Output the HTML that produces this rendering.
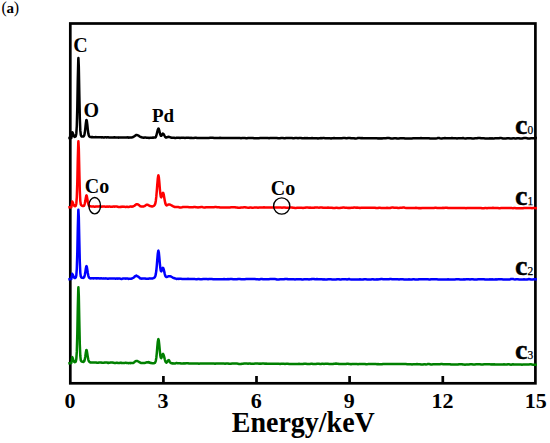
<!DOCTYPE html>
<html><head><meta charset="utf-8"><style>
html,body{margin:0;padding:0;background:#fff;width:550px;height:443px;overflow:hidden}
svg{display:block}
text{font-family:"Liberation Serif",serif;font-weight:bold;fill:#000}
</style></head><body>
<svg width="550" height="443" viewBox="0 0 550 443">
<rect width="550" height="443" fill="#fff"/>
<text x="1.6" y="13.2" style="font-weight:normal;font-size:16px;letter-spacing:-0.4px">(<tspan style="font-weight:bold;font-size:15px">a</tspan>)</text>
<rect x="70.3" y="23.5" width="465.1" height="359.8" fill="none" stroke="#000" stroke-width="2.7"/>
<line x1="163.4" y1="376" x2="163.4" y2="383" stroke="#000" stroke-width="2.7"/><line x1="256.5" y1="376" x2="256.5" y2="383" stroke="#000" stroke-width="2.7"/><line x1="349.6" y1="376" x2="349.6" y2="383" stroke="#000" stroke-width="2.7"/><line x1="442.8" y1="376" x2="442.8" y2="383" stroke="#000" stroke-width="2.7"/>
<path d="M68.3 138.1 L68.8 138.1 L69.3 138.0 L69.8 138.0 L70.3 138.0 L70.8 138.0 L71.3 137.9 L71.8 135.5 L72.2 132.2 L72.3 132.2 L72.8 133.1 L73.3 134.5 L73.8 135.9 L74.3 136.6 L74.8 136.9 L75.3 136.7 L75.8 136.1 L76.3 133.7 L76.8 126.0 L77.3 107.6 L77.8 79.6 L78.3 59.2 L78.4 58.0 L78.8 66.5 L79.3 93.5 L79.8 117.7 L80.3 130.4 L80.8 134.9 L81.3 136.0 L81.8 136.5 L82.3 136.6 L82.8 136.6 L83.3 136.5 L83.8 136.3 L84.3 135.3 L84.8 132.8 L85.3 128.7 L85.8 123.7 L86.3 120.3 L86.5 120.0 L86.8 120.7 L87.3 124.7 L87.8 129.6 L88.3 133.4 L88.8 135.5 L89.3 136.5 L89.8 136.8 L90.3 137.0 L90.8 137.1 L91.3 137.2 L91.8 137.1 L92.3 137.2 L92.8 137.1 L93.3 137.3 L93.8 137.2 L94.3 137.3 L94.8 137.2 L95.3 137.2 L95.8 137.1 L96.3 137.2 L96.8 137.3 L97.3 137.2 L97.8 137.2 L98.3 137.2 L98.8 137.2 L99.3 137.3 L99.8 137.3 L100.3 137.3 L100.8 137.3 L101.3 137.3 L101.8 137.4 L102.3 137.3 L102.8 137.3 L103.3 137.4 L103.8 137.5 L104.3 137.4 L104.8 137.3 L105.3 137.2 L105.8 137.2 L106.3 137.4 L106.8 137.4 L107.3 137.3 L107.8 137.2 L108.3 137.3 L108.8 137.4 L109.3 137.5 L109.8 137.4 L110.3 137.4 L110.8 137.5 L111.3 137.6 L111.8 137.5 L112.3 137.5 L112.8 137.4 L113.3 137.5 L113.8 137.3 L114.3 137.4 L114.8 137.3 L115.3 137.4 L115.8 137.4 L116.3 137.4 L116.8 137.5 L117.3 137.5 L117.8 137.6 L118.3 137.6 L118.8 137.7 L119.3 137.5 L119.8 137.4 L120.3 137.5 L120.8 137.5 L121.3 137.6 L121.8 137.5 L122.3 137.5 L122.8 137.6 L123.3 137.6 L123.8 137.6 L124.3 137.5 L124.8 137.5 L125.3 137.5 L125.8 137.6 L126.3 137.6 L126.8 137.6 L127.3 137.4 L127.8 137.3 L128.3 137.6 L128.8 137.7 L129.3 137.6 L129.8 137.5 L130.3 137.5 L130.8 137.5 L131.3 137.4 L131.8 137.4 L132.3 137.3 L132.8 137.2 L133.3 136.9 L133.8 136.6 L134.3 136.3 L134.8 135.9 L135.3 135.6 L135.8 135.2 L136.3 135.0 L136.8 135.0 L137.0 135.0 L137.3 135.2 L137.8 135.2 L138.3 135.5 L138.8 135.8 L139.3 136.2 L139.8 136.6 L140.3 136.8 L140.8 137.1 L141.3 137.2 L141.8 137.4 L142.3 137.4 L142.8 137.4 L143.3 137.7 L143.8 137.7 L144.3 137.7 L144.8 137.5 L145.3 137.5 L145.8 137.6 L146.3 137.7 L146.8 137.7 L147.3 137.7 L147.8 137.7 L148.3 137.8 L148.8 137.9 L149.3 137.9 L149.8 137.8 L150.3 137.7 L150.8 137.7 L151.3 137.7 L151.8 137.7 L152.3 137.7 L152.8 137.6 L153.3 137.7 L153.8 137.6 L154.3 137.6 L154.8 137.6 L155.3 137.5 L155.8 137.0 L156.3 135.8 L156.8 133.8 L157.3 131.7 L157.8 129.7 L158.3 128.7 L158.4 128.5 L158.8 128.9 L159.3 130.6 L159.8 132.9 L160.3 134.6 L160.8 135.7 L161.3 135.8 L161.8 135.0 L162.3 134.2 L162.8 133.5 L163.0 133.8 L163.3 133.8 L163.8 134.5 L164.3 135.3 L164.8 136.3 L165.3 137.1 L165.8 137.5 L166.3 137.6 L166.8 137.3 L167.3 137.2 L167.8 136.9 L168.3 136.9 L168.6 136.8 L168.8 136.9 L169.3 136.9 L169.8 137.2 L170.3 137.4 L170.8 137.5 L171.3 137.7 L171.8 137.7 L172.3 137.7 L172.8 137.7 L173.3 137.8 L173.8 137.8 L174.3 137.8 L174.8 137.9 L175.3 137.9 L175.8 137.9 L176.3 137.8 L176.8 137.8 L177.3 137.7 L177.8 137.8 L178.3 137.7 L178.8 137.8 L179.3 137.8 L179.8 137.9 L180.0 137.9 L181.0 137.7 L182.0 137.7 L183.0 137.8 L184.0 137.8 L185.0 137.9 L186.0 137.8 L187.0 137.8 L188.0 137.8 L189.0 137.8 L190.0 137.9 L191.0 137.8 L192.0 137.9 L193.0 137.9 L194.0 137.9 L195.0 137.8 L196.0 137.8 L197.0 138.0 L198.0 137.9 L199.0 137.9 L200.0 137.9 L201.0 137.9 L202.0 138.0 L203.0 137.9 L204.0 137.9 L205.0 137.9 L206.0 137.9 L207.0 138.0 L208.0 137.9 L209.0 137.9 L210.0 137.8 L211.0 137.8 L212.0 137.8 L213.0 137.8 L214.0 137.9 L215.0 137.9 L216.0 138.1 L217.0 138.0 L218.0 138.0 L219.0 137.9 L220.0 137.8 L221.0 138.1 L222.0 138.0 L223.0 138.1 L224.0 138.0 L225.0 138.0 L226.0 138.0 L227.0 137.9 L228.0 138.0 L229.0 138.1 L230.0 138.0 L231.0 138.0 L232.0 138.0 L233.0 138.0 L234.0 138.0 L235.0 138.0 L236.0 137.9 L237.0 137.9 L238.0 137.9 L239.0 138.0 L240.0 138.1 L241.0 138.2 L242.0 138.1 L243.0 138.1 L244.0 138.0 L245.0 138.1 L246.0 138.2 L247.0 138.2 L248.0 138.1 L249.0 138.0 L250.0 138.0 L251.0 138.0 L252.0 138.0 L253.0 138.0 L254.0 138.2 L255.0 138.2 L256.0 138.2 L257.0 138.2 L258.0 138.2 L259.0 138.2 L260.0 138.1 L261.0 138.1 L262.0 138.0 L263.0 138.0 L264.0 138.0 L265.0 138.0 L266.0 137.9 L267.0 138.1 L268.0 138.1 L269.0 138.2 L270.0 138.0 L271.0 138.0 L272.0 138.0 L273.0 138.0 L274.0 138.0 L275.0 138.0 L276.0 138.0 L277.0 138.1 L278.0 138.2 L279.0 138.3 L280.0 138.2 L281.0 138.1 L282.0 138.1 L283.0 138.1 L284.0 138.2 L285.0 138.3 L286.0 138.1 L287.0 138.1 L288.0 137.9 L289.0 138.1 L290.0 138.0 L291.0 138.1 L292.0 138.0 L293.0 138.2 L294.0 138.2 L295.0 138.1 L296.0 138.1 L297.0 138.1 L298.0 138.2 L299.0 138.1 L300.0 138.1 L301.0 138.1 L302.0 138.3 L303.0 138.2 L304.0 138.3 L305.0 138.1 L306.0 138.2 L307.0 138.1 L308.0 138.2 L309.0 138.3 L310.0 138.2 L311.0 138.2 L312.0 138.1 L313.0 138.3 L314.0 138.3 L315.0 138.2 L316.0 138.2 L317.0 138.2 L318.0 138.4 L319.0 138.3 L320.0 138.2 L321.0 138.1 L322.0 138.2 L323.0 138.1 L324.0 138.1 L325.0 138.2 L326.0 138.3 L327.0 138.3 L328.0 138.2 L329.0 138.3 L330.0 138.3 L331.0 138.4 L332.0 138.2 L333.0 138.2 L334.0 138.1 L335.0 138.3 L336.0 138.3 L337.0 138.3 L338.0 138.2 L339.0 138.3 L340.0 138.3 L341.0 138.2 L342.0 138.2 L343.0 138.1 L344.0 138.1 L345.0 138.1 L346.0 138.2 L347.0 138.2 L348.0 138.1 L349.0 138.1 L350.0 138.1 L351.0 138.3 L352.0 138.2 L353.0 138.3 L354.0 138.2 L355.0 138.4 L356.0 138.4 L357.0 138.3 L358.0 138.1 L359.0 138.1 L360.0 138.0 L361.0 138.2 L362.0 138.0 L363.0 138.2 L364.0 138.3 L365.0 138.3 L366.0 138.3 L367.0 138.3 L368.0 138.3 L369.0 138.2 L370.0 138.2 L371.0 138.3 L372.0 138.3 L373.0 138.3 L374.0 138.3 L375.0 138.2 L376.0 138.3 L377.0 138.2 L378.0 138.4 L379.0 138.3 L380.0 138.4 L381.0 138.3 L382.0 138.4 L383.0 138.2 L384.0 138.2 L385.0 138.2 L386.0 138.2 L387.0 138.1 L388.0 138.1 L389.0 138.1 L390.0 138.2 L391.0 138.4 L392.0 138.5 L393.0 138.4 L394.0 138.3 L395.0 138.3 L396.0 138.3 L397.0 138.5 L398.0 138.5 L399.0 138.4 L400.0 138.3 L401.0 138.2 L402.0 138.2 L403.0 138.2 L404.0 138.2 L405.0 138.4 L406.0 138.4 L407.0 138.5 L408.0 138.5 L409.0 138.5 L410.0 138.5 L411.0 138.4 L412.0 138.4 L413.0 138.3 L414.0 138.3 L415.0 138.3 L416.0 138.2 L417.0 138.2 L418.0 138.3 L419.0 138.2 L420.0 138.2 L421.0 138.1 L422.0 138.2 L423.0 138.2 L424.0 138.3 L425.0 138.3 L426.0 138.3 L427.0 138.3 L428.0 138.2 L429.0 138.2 L430.0 138.4 L431.0 138.4 L432.0 138.5 L433.0 138.5 L434.0 138.5 L435.0 138.4 L436.0 138.4 L437.0 138.3 L438.0 138.1 L439.0 138.1 L440.0 138.3 L441.0 138.4 L442.0 138.4 L443.0 138.3 L444.0 138.3 L445.0 138.1 L446.0 138.2 L447.0 138.2 L448.0 138.2 L449.0 138.3 L450.0 138.2 L451.0 138.3 L452.0 138.0 L453.0 138.2 L454.0 138.2 L455.0 138.3 L456.0 138.3 L457.0 138.4 L458.0 138.3 L459.0 138.2 L460.0 138.3 L461.0 138.3 L462.0 138.3 L463.0 138.1 L464.0 138.3 L465.0 138.4 L466.0 138.4 L467.0 138.3 L468.0 138.3 L469.0 138.3 L470.0 138.3 L471.0 138.3 L472.0 138.4 L473.0 138.5 L474.0 138.4 L475.0 138.3 L476.0 138.3 L477.0 138.2 L478.0 138.0 L479.0 138.0 L480.0 138.1 L481.0 138.3 L482.0 138.3 L483.0 138.3 L484.0 138.3 L485.0 138.4 L486.0 138.6 L487.0 138.6 L488.0 138.5 L489.0 138.4 L490.0 138.3 L491.0 138.4 L492.0 138.3 L493.0 138.4 L494.0 138.4 L495.0 138.3 L496.0 138.3 L497.0 138.3 L498.0 138.3 L499.0 138.3 L500.0 138.1 L501.0 138.1 L502.0 138.2 L503.0 138.4 L504.0 138.5 L505.0 138.5 L506.0 138.4 L507.0 138.3 L508.0 138.3 L509.0 138.3 L510.0 138.4 L511.0 138.5 L512.0 138.4 L513.0 138.3 L514.0 138.3 L515.0 138.4 L516.0 138.4 L517.0 138.3 L518.0 138.2 L519.0 138.3 L520.0 138.5 L521.0 138.6 L522.0 138.4 L523.0 138.2 L524.0 138.1 L525.0 138.0 L526.0 138.1 L527.0 138.2 L528.0 138.4 L529.0 138.4 L530.0 138.4 L531.0 138.3 L532.0 138.3 L533.0 138.3 L534.0 138.3 L535.0 138.1 L536.0 138.0 L536.9 138.1" fill="none" stroke="#000" stroke-width="2.5" stroke-linejoin="round"/><path d="M68.3 207.3 L68.8 207.3 L69.3 207.3 L69.8 207.2 L70.3 207.3 L70.8 207.4 L71.3 207.3 L71.8 204.8 L72.2 201.5 L72.3 201.6 L72.8 202.4 L73.3 203.9 L73.8 205.1 L74.3 206.0 L74.8 206.2 L75.3 206.2 L75.8 205.6 L76.3 203.7 L76.8 197.3 L77.3 182.2 L77.8 159.1 L78.3 142.2 L78.4 141.3 L78.8 148.2 L79.3 170.7 L79.8 190.8 L80.3 201.1 L80.8 204.5 L81.3 205.2 L81.8 205.7 L82.3 205.9 L82.8 206.1 L83.3 206.1 L83.8 205.9 L84.3 205.2 L84.8 203.6 L85.3 201.1 L85.8 197.9 L86.3 195.6 L86.5 195.4 L86.8 196.1 L87.3 198.7 L87.8 201.7 L88.3 203.9 L88.8 205.4 L89.3 206.0 L89.8 206.4 L90.3 206.2 L90.8 206.4 L91.3 206.4 L91.8 206.5 L92.3 206.4 L92.8 206.4 L93.3 206.6 L93.8 206.6 L94.3 206.7 L94.8 206.7 L95.3 206.7 L95.8 206.5 L96.3 206.5 L96.8 206.5 L97.3 206.6 L97.8 206.5 L98.3 206.6 L98.8 206.5 L99.3 206.4 L99.8 206.2 L100.3 206.4 L100.8 206.5 L101.3 206.8 L101.8 206.7 L102.3 206.6 L102.8 206.6 L103.3 206.6 L103.8 206.5 L104.3 206.5 L104.8 206.6 L105.3 206.7 L105.8 206.8 L106.3 206.7 L106.8 206.6 L107.3 206.6 L107.8 206.7 L108.3 206.7 L108.8 206.6 L109.3 206.5 L109.8 206.6 L110.3 206.7 L110.8 206.7 L111.3 206.8 L111.8 206.7 L112.3 206.8 L112.8 206.6 L113.3 206.6 L113.8 206.6 L114.3 206.7 L114.8 206.6 L115.3 206.6 L115.8 206.6 L116.3 206.5 L116.8 206.6 L117.3 206.6 L117.8 206.8 L118.3 206.9 L118.8 207.0 L119.3 207.0 L119.8 206.9 L120.3 206.9 L120.8 206.8 L121.3 206.9 L121.8 206.7 L122.3 206.8 L122.8 206.6 L123.3 206.7 L123.8 206.7 L124.3 206.8 L124.8 206.8 L125.3 206.9 L125.8 207.0 L126.3 206.8 L126.8 206.8 L127.3 206.8 L127.8 206.9 L128.3 206.9 L128.8 206.9 L129.3 206.8 L129.8 206.7 L130.3 206.6 L130.8 206.6 L131.3 206.6 L131.8 206.7 L132.3 206.7 L132.8 206.5 L133.3 206.3 L133.8 205.9 L134.3 205.8 L134.8 205.4 L135.3 205.1 L135.8 204.6 L136.3 204.3 L136.8 204.2 L137.0 204.3 L137.3 204.3 L137.8 204.4 L138.3 204.7 L138.8 204.9 L139.3 205.5 L139.8 205.8 L140.3 206.2 L140.8 206.3 L141.3 206.5 L141.8 206.5 L142.3 206.6 L142.8 206.5 L143.3 206.5 L143.8 206.4 L144.3 206.2 L144.8 206.0 L145.3 205.7 L145.8 205.2 L146.3 204.9 L146.8 204.7 L147.2 204.8 L147.3 204.7 L147.8 204.8 L148.3 205.1 L148.8 205.3 L149.3 205.7 L149.8 206.0 L150.3 206.1 L150.8 206.2 L151.3 206.3 L151.8 206.4 L152.3 206.4 L152.8 206.3 L153.3 206.1 L153.8 205.9 L154.3 205.4 L154.8 204.8 L155.3 203.5 L155.8 200.9 L156.3 196.7 L156.8 190.9 L157.3 184.3 L157.8 178.5 L158.3 175.5 L158.4 175.3 L158.8 177.0 L159.3 181.9 L159.8 188.3 L160.3 193.6 L160.8 196.8 L161.3 197.3 L161.8 196.0 L162.3 194.2 L162.8 193.0 L163.0 192.7 L163.3 193.1 L163.8 194.9 L164.3 198.0 L164.8 200.8 L165.3 203.3 L165.8 204.6 L166.3 205.3 L166.8 205.4 L167.3 205.2 L167.8 204.8 L168.3 204.5 L168.8 204.6 L169.3 204.6 L169.6 204.6 L169.8 204.6 L170.3 204.7 L170.8 205.0 L171.3 205.3 L171.8 205.5 L172.3 205.8 L172.8 206.2 L173.3 206.4 L173.8 206.7 L174.3 206.9 L174.8 207.1 L175.3 206.9 L175.8 206.9 L176.3 207.0 L176.8 207.1 L177.3 207.0 L177.8 207.0 L178.3 207.1 L178.8 207.2 L179.3 207.3 L179.8 207.5 L180.0 207.6 L181.0 207.4 L182.0 207.3 L183.0 207.0 L184.0 207.1 L185.0 207.0 L186.0 207.1 L187.0 207.0 L188.0 207.1 L189.0 207.2 L190.0 207.3 L191.0 207.3 L192.0 207.3 L193.0 207.2 L194.0 207.0 L195.0 207.0 L196.0 207.2 L197.0 207.3 L198.0 207.4 L199.0 207.3 L200.0 207.2 L201.0 207.1 L202.0 207.1 L203.0 207.3 L204.0 207.4 L205.0 207.5 L206.0 207.3 L207.0 207.2 L208.0 207.2 L209.0 207.3 L210.0 207.2 L211.0 207.3 L212.0 207.2 L213.0 207.2 L214.0 207.2 L215.0 207.1 L216.0 207.1 L217.0 207.2 L218.0 207.3 L219.0 207.3 L220.0 207.5 L221.0 207.6 L222.0 207.6 L223.0 207.5 L224.0 207.4 L225.0 207.5 L226.0 207.5 L227.0 207.5 L228.0 207.4 L229.0 207.5 L230.0 207.4 L231.0 207.3 L232.0 207.2 L233.0 207.2 L234.0 207.2 L235.0 207.2 L236.0 207.4 L237.0 207.5 L238.0 207.7 L239.0 207.7 L240.0 207.7 L241.0 207.5 L242.0 207.6 L243.0 207.4 L244.0 207.3 L245.0 207.2 L246.0 207.4 L247.0 207.6 L248.0 207.7 L249.0 207.7 L250.0 207.5 L251.0 207.6 L252.0 207.7 L253.0 207.7 L254.0 207.6 L255.0 207.4 L256.0 207.6 L257.0 207.6 L258.0 207.7 L259.0 207.6 L260.0 207.6 L261.0 207.6 L262.0 207.5 L263.0 207.4 L264.0 207.3 L265.0 207.4 L266.0 207.6 L267.0 207.6 L268.0 207.6 L269.0 207.5 L270.0 207.6 L271.0 207.6 L272.0 207.5 L273.0 207.6 L274.0 207.6 L275.0 207.6 L276.0 207.6 L277.0 207.6 L278.0 207.5 L279.0 207.4 L280.0 207.5 L281.0 207.6 L282.0 207.7 L283.0 207.6 L284.0 207.6 L285.0 207.6 L286.0 207.7 L287.0 207.8 L288.0 207.8 L289.0 207.7 L290.0 207.4 L291.0 207.5 L292.0 207.6 L293.0 207.8 L294.0 207.8 L295.0 207.9 L296.0 207.9 L297.0 207.8 L298.0 207.7 L299.0 207.7 L300.0 207.7 L301.0 207.8 L302.0 207.8 L303.0 207.9 L304.0 207.8 L305.0 207.8 L306.0 207.6 L307.0 207.6 L308.0 207.6 L309.0 207.7 L310.0 207.6 L311.0 207.7 L312.0 207.8 L313.0 207.7 L314.0 207.8 L315.0 207.5 L316.0 207.5 L317.0 207.4 L318.0 207.6 L319.0 207.7 L320.0 207.6 L321.0 207.6 L322.0 207.6 L323.0 207.8 L324.0 207.8 L325.0 207.8 L326.0 207.7 L327.0 207.7 L328.0 207.6 L329.0 207.7 L330.0 207.7 L331.0 207.7 L332.0 207.7 L333.0 207.9 L334.0 207.9 L335.0 207.9 L336.0 207.8 L337.0 207.8 L338.0 207.9 L339.0 208.0 L340.0 207.9 L341.0 207.8 L342.0 207.7 L343.0 207.6 L344.0 207.6 L345.0 207.7 L346.0 207.8 L347.0 207.8 L348.0 207.9 L349.0 207.8 L350.0 207.9 L351.0 207.8 L352.0 207.8 L353.0 207.8 L354.0 207.6 L355.0 207.6 L356.0 207.7 L357.0 207.6 L358.0 207.7 L359.0 207.7 L360.0 207.9 L361.0 207.8 L362.0 207.8 L363.0 207.7 L364.0 207.7 L365.0 207.8 L366.0 207.8 L367.0 207.8 L368.0 207.8 L369.0 207.8 L370.0 207.8 L371.0 207.7 L372.0 207.7 L373.0 207.7 L374.0 207.8 L375.0 207.8 L376.0 208.0 L377.0 208.0 L378.0 208.0 L379.0 207.8 L380.0 207.8 L381.0 207.9 L382.0 207.9 L383.0 208.0 L384.0 208.0 L385.0 208.0 L386.0 207.9 L387.0 207.8 L388.0 208.1 L389.0 208.0 L390.0 208.0 L391.0 207.7 L392.0 207.6 L393.0 207.6 L394.0 207.7 L395.0 207.7 L396.0 207.7 L397.0 207.7 L398.0 207.9 L399.0 207.9 L400.0 207.8 L401.0 207.7 L402.0 207.7 L403.0 207.6 L404.0 207.6 L405.0 207.8 L406.0 207.9 L407.0 207.9 L408.0 207.9 L409.0 207.9 L410.0 208.0 L411.0 207.9 L412.0 207.9 L413.0 207.9 L414.0 207.9 L415.0 208.0 L416.0 207.8 L417.0 207.9 L418.0 208.0 L419.0 208.3 L420.0 208.1 L421.0 208.2 L422.0 207.9 L423.0 208.0 L424.0 208.0 L425.0 208.0 L426.0 207.9 L427.0 207.9 L428.0 208.0 L429.0 208.0 L430.0 208.1 L431.0 208.1 L432.0 208.1 L433.0 208.0 L434.0 207.9 L435.0 207.8 L436.0 207.8 L437.0 207.9 L438.0 208.0 L439.0 207.9 L440.0 207.9 L441.0 207.9 L442.0 207.9 L443.0 207.8 L444.0 207.9 L445.0 207.8 L446.0 207.8 L447.0 207.7 L448.0 207.9 L449.0 207.9 L450.0 207.9 L451.0 208.0 L452.0 208.0 L453.0 208.1 L454.0 208.1 L455.0 208.1 L456.0 208.1 L457.0 208.0 L458.0 208.0 L459.0 207.9 L460.0 207.9 L461.0 208.0 L462.0 208.0 L463.0 207.9 L464.0 208.0 L465.0 208.1 L466.0 208.2 L467.0 208.0 L468.0 207.9 L469.0 207.9 L470.0 208.0 L471.0 208.0 L472.0 208.0 L473.0 208.1 L474.0 208.1 L475.0 208.0 L476.0 207.9 L477.0 208.0 L478.0 208.0 L479.0 207.9 L480.0 208.0 L481.0 208.1 L482.0 208.3 L483.0 208.2 L484.0 208.2 L485.0 208.1 L486.0 208.1 L487.0 208.2 L488.0 208.1 L489.0 208.1 L490.0 208.0 L491.0 208.0 L492.0 208.0 L493.0 207.8 L494.0 207.9 L495.0 207.9 L496.0 208.0 L497.0 208.0 L498.0 208.1 L499.0 208.2 L500.0 208.2 L501.0 208.1 L502.0 208.0 L503.0 207.9 L504.0 208.1 L505.0 208.0 L506.0 208.0 L507.0 208.0 L508.0 208.0 L509.0 207.9 L510.0 207.9 L511.0 207.9 L512.0 208.1 L513.0 208.2 L514.0 208.1 L515.0 208.1 L516.0 208.2 L517.0 208.3 L518.0 208.3 L519.0 208.3 L520.0 208.2 L521.0 208.3 L522.0 208.3 L523.0 208.2 L524.0 208.0 L525.0 208.0 L526.0 207.9 L527.0 208.0 L528.0 208.0 L529.0 208.1 L530.0 208.1 L531.0 208.1 L532.0 208.2 L533.0 208.1 L534.0 208.0 L535.0 208.1 L536.0 208.2 L536.9 208.3" fill="none" stroke="#f00" stroke-width="2.5" stroke-linejoin="round"/><path d="M68.3 279.2 L68.8 279.2 L69.3 279.2 L69.8 279.1 L70.3 279.1 L70.8 279.0 L71.3 278.9 L71.8 276.6 L72.2 273.7 L72.3 273.9 L72.8 274.7 L73.3 275.9 L73.8 277.1 L74.3 277.8 L74.8 278.0 L75.3 277.9 L75.8 277.4 L76.3 275.5 L76.8 268.8 L77.3 252.8 L77.8 228.5 L78.3 210.7 L78.4 209.7 L78.8 217.0 L79.3 240.6 L79.8 261.9 L80.3 272.8 L80.8 276.5 L81.3 277.4 L81.8 277.7 L82.3 277.8 L82.8 277.8 L83.3 277.9 L83.8 277.7 L84.3 276.9 L84.8 275.0 L85.3 272.3 L85.8 268.7 L86.3 266.3 L86.5 266.1 L86.8 266.7 L87.3 269.6 L87.8 273.0 L88.3 275.6 L88.8 277.1 L89.3 277.9 L89.8 278.2 L90.3 278.3 L90.8 278.4 L91.3 278.3 L91.8 278.3 L92.3 278.3 L92.8 278.3 L93.3 278.4 L93.8 278.3 L94.3 278.3 L94.8 278.2 L95.3 278.3 L95.8 278.3 L96.3 278.4 L96.8 278.3 L97.3 278.2 L97.8 278.4 L98.3 278.3 L98.8 278.3 L99.3 278.3 L99.8 278.5 L100.3 278.4 L100.8 278.3 L101.3 278.3 L101.8 278.4 L102.3 278.5 L102.8 278.4 L103.3 278.5 L103.8 278.3 L104.3 278.5 L104.8 278.5 L105.3 278.6 L105.8 278.3 L106.3 278.5 L106.8 278.5 L107.3 278.7 L107.8 278.7 L108.3 278.7 L108.8 278.6 L109.3 278.4 L109.8 278.4 L110.3 278.5 L110.8 278.5 L111.3 278.5 L111.8 278.4 L112.3 278.5 L112.8 278.6 L113.3 278.5 L113.8 278.4 L114.3 278.4 L114.8 278.5 L115.3 278.7 L115.8 278.7 L116.3 278.6 L116.8 278.6 L117.3 278.6 L117.8 278.7 L118.3 278.6 L118.8 278.6 L119.3 278.5 L119.8 278.6 L120.3 278.7 L120.8 278.8 L121.3 278.9 L121.8 279.0 L122.3 278.7 L122.8 278.6 L123.3 278.4 L123.8 278.6 L124.3 278.5 L124.8 278.6 L125.3 278.6 L125.8 278.7 L126.3 278.6 L126.8 278.4 L127.3 278.5 L127.8 278.7 L128.3 278.9 L128.8 278.8 L129.3 278.8 L129.8 278.7 L130.3 278.8 L130.8 278.8 L131.3 278.8 L131.8 278.5 L132.3 278.3 L132.8 277.9 L133.3 277.8 L133.8 277.4 L134.3 277.0 L134.8 276.5 L135.3 276.1 L135.8 275.8 L136.3 275.6 L136.3 275.7 L136.8 275.9 L137.3 276.2 L137.8 276.5 L138.3 276.7 L138.8 277.1 L139.3 277.6 L139.8 278.0 L140.3 278.4 L140.8 278.5 L141.3 278.6 L141.8 278.7 L142.3 278.6 L142.8 278.6 L143.3 278.6 L143.8 278.6 L144.3 278.6 L144.8 278.5 L145.3 278.6 L145.8 278.7 L146.3 278.7 L146.8 278.7 L147.3 278.7 L147.8 278.7 L148.3 278.8 L148.8 278.6 L149.3 278.6 L149.8 278.4 L150.3 278.6 L150.8 278.5 L151.3 278.6 L151.8 278.6 L152.3 278.5 L152.8 278.4 L153.3 278.2 L153.8 278.0 L154.3 277.7 L154.8 277.1 L155.3 276.2 L155.8 274.1 L156.3 270.8 L156.8 265.6 L157.3 259.4 L157.8 253.6 L158.3 250.8 L158.4 250.7 L158.8 252.2 L159.3 257.1 L159.8 263.1 L160.3 267.9 L160.8 270.8 L161.3 271.3 L161.8 270.4 L162.3 268.8 L162.8 267.8 L163.0 267.9 L163.3 268.2 L163.8 269.7 L164.3 271.9 L164.8 274.1 L165.3 275.8 L165.8 276.7 L166.3 277.0 L166.8 276.9 L167.3 276.8 L167.8 276.4 L168.3 276.4 L168.8 276.2 L169.3 276.3 L169.6 276.2 L169.8 276.2 L170.3 276.3 L170.8 276.4 L171.3 276.7 L171.8 277.0 L172.3 277.3 L172.8 277.6 L173.3 277.8 L173.8 278.1 L174.3 278.2 L174.8 278.4 L175.3 278.4 L175.8 278.7 L176.3 278.9 L176.8 278.9 L177.3 278.8 L177.8 278.8 L178.3 278.8 L178.8 278.9 L179.3 278.8 L179.8 278.8 L180.0 278.8 L181.0 278.8 L182.0 278.9 L183.0 278.9 L184.0 278.9 L185.0 279.0 L186.0 279.0 L187.0 278.9 L188.0 278.8 L189.0 278.9 L190.0 279.1 L191.0 279.1 L192.0 279.1 L193.0 278.9 L194.0 278.9 L195.0 279.1 L196.0 279.2 L197.0 279.2 L198.0 279.1 L199.0 279.1 L200.0 279.2 L201.0 279.2 L202.0 279.2 L203.0 279.1 L204.0 279.1 L205.0 279.0 L206.0 279.1 L207.0 279.1 L208.0 279.2 L209.0 279.0 L210.0 279.0 L211.0 279.0 L212.0 279.1 L213.0 279.2 L214.0 279.3 L215.0 279.3 L216.0 279.2 L217.0 279.2 L218.0 279.2 L219.0 279.2 L220.0 279.2 L221.0 279.2 L222.0 279.3 L223.0 279.2 L224.0 279.1 L225.0 279.3 L226.0 279.3 L227.0 279.2 L228.0 279.1 L229.0 279.2 L230.0 279.1 L231.0 279.1 L232.0 279.1 L233.0 279.2 L234.0 279.3 L235.0 279.2 L236.0 279.2 L237.0 279.2 L238.0 279.0 L239.0 279.0 L240.0 279.1 L241.0 279.2 L242.0 279.3 L243.0 279.2 L244.0 279.3 L245.0 279.2 L246.0 279.1 L247.0 279.0 L248.0 279.0 L249.0 279.1 L250.0 279.0 L251.0 279.0 L252.0 279.1 L253.0 279.0 L254.0 279.0 L255.0 279.1 L256.0 279.2 L257.0 279.3 L258.0 279.3 L259.0 279.4 L260.0 279.2 L261.0 279.0 L262.0 279.0 L263.0 279.2 L264.0 279.3 L265.0 279.3 L266.0 279.2 L267.0 279.2 L268.0 279.2 L269.0 279.2 L270.0 279.1 L271.0 279.0 L272.0 279.0 L273.0 279.0 L274.0 279.0 L275.0 279.1 L276.0 279.2 L277.0 279.5 L278.0 279.5 L279.0 279.4 L280.0 279.3 L281.0 279.3 L282.0 279.2 L283.0 279.3 L284.0 279.2 L285.0 279.0 L286.0 279.0 L287.0 279.0 L288.0 279.3 L289.0 279.2 L290.0 279.2 L291.0 279.2 L292.0 279.2 L293.0 279.3 L294.0 279.3 L295.0 279.4 L296.0 279.3 L297.0 279.2 L298.0 279.3 L299.0 279.2 L300.0 279.3 L301.0 279.3 L302.0 279.5 L303.0 279.4 L304.0 279.3 L305.0 279.2 L306.0 279.2 L307.0 279.3 L308.0 279.3 L309.0 279.4 L310.0 279.3 L311.0 279.3 L312.0 279.0 L313.0 279.0 L314.0 279.1 L315.0 279.3 L316.0 279.3 L317.0 279.1 L318.0 279.2 L319.0 279.2 L320.0 279.2 L321.0 279.2 L322.0 279.2 L323.0 279.4 L324.0 279.3 L325.0 279.4 L326.0 279.4 L327.0 279.4 L328.0 279.3 L329.0 279.2 L330.0 279.3 L331.0 279.3 L332.0 279.4 L333.0 279.4 L334.0 279.5 L335.0 279.5 L336.0 279.4 L337.0 279.2 L338.0 279.2 L339.0 279.2 L340.0 279.4 L341.0 279.4 L342.0 279.3 L343.0 279.3 L344.0 279.2 L345.0 279.3 L346.0 279.3 L347.0 279.4 L348.0 279.2 L349.0 279.1 L350.0 279.3 L351.0 279.4 L352.0 279.4 L353.0 279.4 L354.0 279.4 L355.0 279.6 L356.0 279.5 L357.0 279.5 L358.0 279.5 L359.0 279.5 L360.0 279.3 L361.0 279.4 L362.0 279.4 L363.0 279.6 L364.0 279.3 L365.0 279.3 L366.0 279.3 L367.0 279.4 L368.0 279.4 L369.0 279.4 L370.0 279.4 L371.0 279.4 L372.0 279.3 L373.0 279.3 L374.0 279.5 L375.0 279.5 L376.0 279.4 L377.0 279.3 L378.0 279.4 L379.0 279.3 L380.0 279.2 L381.0 279.1 L382.0 279.1 L383.0 279.2 L384.0 279.2 L385.0 279.3 L386.0 279.3 L387.0 279.3 L388.0 279.2 L389.0 279.3 L390.0 279.1 L391.0 279.1 L392.0 279.2 L393.0 279.2 L394.0 279.3 L395.0 279.2 L396.0 279.3 L397.0 279.3 L398.0 279.3 L399.0 279.4 L400.0 279.3 L401.0 279.3 L402.0 279.2 L403.0 279.3 L404.0 279.4 L405.0 279.6 L406.0 279.5 L407.0 279.4 L408.0 279.4 L409.0 279.3 L410.0 279.4 L411.0 279.4 L412.0 279.4 L413.0 279.3 L414.0 279.3 L415.0 279.4 L416.0 279.6 L417.0 279.6 L418.0 279.5 L419.0 279.2 L420.0 279.2 L421.0 279.2 L422.0 279.3 L423.0 279.3 L424.0 279.2 L425.0 279.3 L426.0 279.2 L427.0 279.2 L428.0 279.3 L429.0 279.4 L430.0 279.4 L431.0 279.2 L432.0 279.2 L433.0 279.3 L434.0 279.3 L435.0 279.2 L436.0 279.2 L437.0 279.3 L438.0 279.4 L439.0 279.4 L440.0 279.5 L441.0 279.6 L442.0 279.6 L443.0 279.5 L444.0 279.5 L445.0 279.5 L446.0 279.4 L447.0 279.4 L448.0 279.3 L449.0 279.5 L450.0 279.5 L451.0 279.5 L452.0 279.4 L453.0 279.5 L454.0 279.5 L455.0 279.4 L456.0 279.3 L457.0 279.3 L458.0 279.3 L459.0 279.3 L460.0 279.4 L461.0 279.5 L462.0 279.5 L463.0 279.4 L464.0 279.3 L465.0 279.4 L466.0 279.3 L467.0 279.3 L468.0 279.2 L469.0 279.3 L470.0 279.4 L471.0 279.3 L472.0 279.2 L473.0 279.3 L474.0 279.4 L475.0 279.5 L476.0 279.5 L477.0 279.4 L478.0 279.3 L479.0 279.3 L480.0 279.2 L481.0 279.3 L482.0 279.3 L483.0 279.3 L484.0 279.3 L485.0 279.5 L486.0 279.5 L487.0 279.5 L488.0 279.4 L489.0 279.4 L490.0 279.3 L491.0 279.4 L492.0 279.3 L493.0 279.5 L494.0 279.4 L495.0 279.4 L496.0 279.3 L497.0 279.4 L498.0 279.3 L499.0 279.3 L500.0 279.2 L501.0 279.2 L502.0 279.3 L503.0 279.4 L504.0 279.5 L505.0 279.5 L506.0 279.4 L507.0 279.4 L508.0 279.4 L509.0 279.5 L510.0 279.4 L511.0 279.0 L512.0 278.9 L513.0 279.1 L514.0 279.3 L515.0 279.4 L516.0 279.3 L517.0 279.3 L518.0 279.3 L519.0 279.4 L520.0 279.5 L521.0 279.5 L522.0 279.4 L523.0 279.4 L524.0 279.3 L525.0 279.4 L526.0 279.6 L527.0 279.6 L528.0 279.3 L529.0 279.1 L530.0 279.2 L531.0 279.4 L532.0 279.5 L533.0 279.4 L534.0 279.3 L535.0 279.3 L536.0 279.3 L536.9 279.4" fill="none" stroke="#00f" stroke-width="2.5" stroke-linejoin="round"/><path d="M68.3 363.3 L68.8 363.3 L69.3 363.3 L69.8 363.3 L70.3 363.2 L70.8 363.1 L71.3 363.1 L71.8 360.5 L72.2 357.3 L72.3 357.2 L72.8 358.3 L73.3 359.9 L73.8 361.3 L74.3 361.9 L74.8 362.2 L75.3 361.9 L75.8 361.5 L76.3 359.1 L76.8 351.9 L77.3 334.3 L77.8 307.7 L78.3 288.2 L78.4 287.3 L78.8 295.5 L79.3 321.1 L79.8 344.3 L80.3 356.0 L80.8 360.3 L81.3 361.2 L81.8 361.6 L82.3 361.7 L82.8 361.8 L83.3 361.9 L83.8 361.6 L84.3 361.1 L84.8 359.4 L85.3 356.4 L85.8 352.8 L86.3 350.2 L86.5 350.0 L86.8 350.7 L87.3 353.6 L87.8 357.1 L88.3 359.6 L88.8 361.1 L89.3 361.8 L89.8 362.1 L90.3 362.4 L90.8 362.4 L91.3 362.5 L91.8 362.4 L92.3 362.4 L92.8 362.4 L93.3 362.4 L93.8 362.5 L94.3 362.5 L94.8 362.6 L95.3 362.5 L95.8 362.6 L96.3 362.6 L96.8 362.7 L97.3 362.7 L97.8 362.7 L98.3 362.7 L98.8 362.6 L99.3 362.5 L99.8 362.6 L100.3 362.6 L100.8 362.5 L101.3 362.6 L101.8 362.7 L102.3 362.7 L102.8 362.7 L103.3 362.7 L103.8 362.8 L104.3 362.6 L104.8 362.6 L105.3 362.5 L105.8 362.4 L106.3 362.4 L106.8 362.5 L107.3 362.7 L107.8 362.9 L108.3 362.8 L108.8 362.9 L109.3 362.7 L109.8 362.7 L110.3 362.6 L110.8 362.5 L111.3 362.5 L111.8 362.5 L112.3 362.6 L112.8 362.6 L113.3 362.8 L113.8 362.8 L114.3 362.9 L114.8 362.9 L115.3 362.9 L115.8 362.9 L116.3 362.8 L116.8 362.8 L117.3 362.8 L117.8 362.9 L118.3 363.0 L118.8 362.9 L119.3 362.9 L119.8 362.9 L120.3 362.7 L120.8 362.9 L121.3 362.8 L121.8 362.9 L122.3 362.9 L122.8 362.9 L123.3 362.9 L123.8 362.9 L124.3 362.9 L124.8 362.9 L125.3 362.8 L125.8 362.7 L126.3 362.9 L126.8 362.9 L127.3 363.0 L127.8 363.0 L128.3 363.2 L128.8 363.2 L129.3 363.1 L129.8 363.0 L130.3 363.2 L130.8 363.1 L131.3 363.0 L131.8 363.0 L132.3 363.0 L132.8 363.0 L133.3 362.9 L133.8 362.6 L134.3 362.2 L134.8 361.7 L135.3 361.4 L135.8 361.2 L136.3 361.0 L136.8 361.0 L137.0 360.9 L137.3 361.1 L137.8 361.2 L138.3 361.5 L138.8 361.8 L139.3 362.1 L139.8 362.4 L140.3 362.7 L140.8 362.9 L141.3 363.0 L141.8 363.0 L142.3 363.0 L142.8 363.0 L143.3 363.0 L143.8 363.0 L144.3 363.0 L144.8 362.9 L145.3 362.8 L145.8 362.6 L146.3 362.4 L146.8 362.3 L147.3 362.3 L147.8 362.4 L147.8 362.2 L148.3 362.2 L148.8 362.1 L149.3 362.4 L149.8 362.8 L150.3 362.9 L150.8 362.8 L151.3 363.0 L151.8 363.2 L152.3 363.3 L152.8 363.3 L153.3 363.3 L153.8 363.3 L154.3 363.1 L154.8 362.9 L155.3 362.2 L155.8 360.8 L156.3 357.9 L156.8 353.1 L157.3 347.0 L157.8 341.7 L158.3 339.2 L158.4 339.1 L158.8 340.6 L159.3 345.1 L159.8 350.7 L160.3 355.4 L160.8 357.8 L161.3 358.1 L161.8 356.8 L162.3 355.0 L162.8 354.0 L163.0 353.9 L163.3 354.3 L163.8 355.5 L164.3 357.4 L164.8 359.5 L165.3 361.2 L165.8 362.2 L166.3 362.7 L166.8 362.3 L167.3 361.8 L167.8 360.9 L168.3 360.3 L168.6 360.2 L168.8 360.1 L169.3 360.8 L169.8 361.8 L170.3 362.6 L170.8 363.0 L171.3 363.3 L171.8 363.3 L172.3 363.4 L172.8 363.3 L173.3 363.3 L173.8 363.5 L174.3 363.6 L174.8 363.6 L175.3 363.5 L175.8 363.2 L176.3 363.1 L176.8 363.1 L177.3 363.2 L177.8 363.3 L178.3 363.3 L178.8 363.3 L179.3 363.2 L179.8 363.2 L180.0 363.2 L181.0 363.4 L182.0 363.4 L183.0 363.4 L184.0 363.3 L185.0 363.4 L186.0 363.2 L187.0 363.3 L188.0 363.3 L189.0 363.5 L190.0 363.5 L191.0 363.5 L192.0 363.4 L193.0 363.5 L194.0 363.5 L195.0 363.5 L196.0 363.4 L197.0 363.5 L198.0 363.5 L199.0 363.7 L200.0 363.6 L201.0 363.6 L202.0 363.5 L203.0 363.5 L204.0 363.5 L205.0 363.6 L206.0 363.6 L207.0 363.6 L208.0 363.5 L209.0 363.5 L210.0 363.5 L211.0 363.5 L212.0 363.4 L213.0 363.6 L214.0 363.6 L215.0 363.8 L216.0 363.5 L217.0 363.4 L218.0 363.4 L219.0 363.4 L220.0 363.6 L221.0 363.5 L222.0 363.6 L223.0 363.6 L224.0 363.6 L225.0 363.7 L226.0 363.5 L227.0 363.6 L228.0 363.6 L229.0 363.8 L230.0 363.7 L231.0 363.7 L232.0 363.6 L233.0 363.6 L234.0 363.6 L235.0 363.5 L236.0 363.5 L237.0 363.6 L238.0 363.7 L239.0 363.9 L240.0 364.0 L241.0 364.0 L242.0 363.8 L243.0 363.7 L244.0 363.6 L245.0 363.5 L246.0 363.6 L247.0 363.6 L248.0 363.7 L249.0 363.5 L250.0 363.6 L251.0 363.8 L252.0 363.8 L253.0 363.8 L254.0 363.7 L255.0 363.6 L256.0 363.6 L257.0 363.6 L258.0 363.6 L259.0 363.7 L260.0 363.6 L261.0 363.7 L262.0 363.6 L263.0 363.6 L264.0 363.5 L265.0 363.7 L266.0 363.6 L267.0 363.7 L268.0 363.7 L269.0 363.8 L270.0 363.8 L271.0 363.7 L272.0 363.8 L273.0 363.8 L274.0 363.7 L275.0 363.8 L276.0 363.8 L277.0 363.8 L278.0 363.8 L279.0 363.8 L280.0 363.9 L281.0 363.7 L282.0 363.7 L283.0 363.7 L284.0 363.8 L285.0 363.9 L286.0 363.8 L287.0 363.8 L288.0 363.8 L289.0 363.9 L290.0 363.9 L291.0 364.0 L292.0 364.0 L293.0 364.0 L294.0 363.9 L295.0 364.0 L296.0 364.0 L297.0 364.0 L298.0 363.9 L299.0 363.8 L300.0 363.9 L301.0 363.9 L302.0 364.0 L303.0 363.9 L304.0 363.7 L305.0 363.8 L306.0 363.8 L307.0 363.9 L308.0 363.9 L309.0 363.9 L310.0 363.9 L311.0 363.8 L312.0 363.7 L313.0 363.9 L314.0 364.0 L315.0 364.0 L316.0 363.9 L317.0 363.7 L318.0 363.8 L319.0 363.7 L320.0 363.9 L321.0 363.9 L322.0 363.7 L323.0 363.8 L324.0 363.9 L325.0 363.8 L326.0 363.7 L327.0 363.7 L328.0 363.8 L329.0 363.9 L330.0 363.9 L331.0 363.9 L332.0 363.9 L333.0 363.9 L334.0 363.7 L335.0 363.7 L336.0 363.5 L337.0 363.7 L338.0 363.8 L339.0 364.1 L340.0 364.0 L341.0 364.0 L342.0 363.9 L343.0 363.9 L344.0 364.0 L345.0 364.0 L346.0 364.0 L347.0 363.8 L348.0 363.7 L349.0 363.9 L350.0 364.1 L351.0 364.3 L352.0 364.1 L353.0 364.0 L354.0 363.9 L355.0 364.0 L356.0 364.0 L357.0 364.1 L358.0 364.2 L359.0 364.1 L360.0 364.1 L361.0 363.9 L362.0 364.1 L363.0 364.0 L364.0 364.1 L365.0 364.0 L366.0 364.2 L367.0 364.2 L368.0 364.1 L369.0 363.9 L370.0 363.9 L371.0 363.9 L372.0 364.0 L373.0 364.0 L374.0 364.1 L375.0 364.1 L376.0 364.1 L377.0 364.2 L378.0 364.1 L379.0 364.2 L380.0 364.2 L381.0 364.3 L382.0 364.2 L383.0 364.0 L384.0 364.1 L385.0 364.0 L386.0 364.1 L387.0 364.0 L388.0 364.0 L389.0 363.9 L390.0 364.0 L391.0 364.0 L392.0 364.0 L393.0 364.0 L394.0 364.0 L395.0 364.1 L396.0 364.0 L397.0 364.0 L398.0 363.9 L399.0 364.0 L400.0 363.9 L401.0 363.9 L402.0 363.9 L403.0 364.0 L404.0 364.0 L405.0 364.1 L406.0 364.1 L407.0 364.2 L408.0 364.2 L409.0 364.2 L410.0 364.2 L411.0 364.3 L412.0 364.4 L413.0 364.3 L414.0 364.2 L415.0 364.2 L416.0 364.2 L417.0 364.1 L418.0 364.2 L419.0 364.3 L420.0 364.3 L421.0 364.4 L422.0 364.4 L423.0 364.4 L424.0 364.3 L425.0 364.3 L426.0 364.4 L427.0 364.3 L428.0 364.1 L429.0 364.0 L430.0 364.2 L431.0 364.4 L432.0 364.4 L433.0 364.3 L434.0 364.3 L435.0 364.2 L436.0 364.3 L437.0 364.2 L438.0 364.3 L439.0 364.2 L440.0 364.2 L441.0 364.1 L442.0 364.1 L443.0 364.2 L444.0 364.3 L445.0 364.3 L446.0 364.3 L447.0 364.2 L448.0 364.2 L449.0 364.2 L450.0 364.2 L451.0 364.4 L452.0 364.4 L453.0 364.5 L454.0 364.5 L455.0 364.4 L456.0 364.4 L457.0 364.4 L458.0 364.4 L459.0 364.2 L460.0 364.3 L461.0 364.2 L462.0 364.3 L463.0 364.5 L464.0 364.6 L465.0 364.7 L466.0 364.6 L467.0 364.5 L468.0 364.4 L469.0 364.4 L470.0 364.3 L471.0 364.3 L472.0 364.3 L473.0 364.4 L474.0 364.4 L475.0 364.4 L476.0 364.3 L477.0 364.3 L478.0 364.3 L479.0 364.2 L480.0 364.3 L481.0 364.4 L482.0 364.5 L483.0 364.4 L484.0 364.3 L485.0 364.3 L486.0 364.3 L487.0 364.3 L488.0 364.2 L489.0 364.3 L490.0 364.3 L491.0 364.4 L492.0 364.3 L493.0 364.4 L494.0 364.2 L495.0 364.5 L496.0 364.4 L497.0 364.4 L498.0 364.4 L499.0 364.4 L500.0 364.4 L501.0 364.4 L502.0 364.4 L503.0 364.4 L504.0 364.3 L505.0 364.4 L506.0 364.4 L507.0 364.4 L508.0 364.2 L509.0 364.3 L510.0 364.6 L511.0 364.7 L512.0 364.5 L513.0 364.3 L514.0 364.4 L515.0 364.5 L516.0 364.5 L517.0 364.4 L518.0 364.5 L519.0 364.5 L520.0 364.5 L521.0 364.5 L522.0 364.7 L523.0 364.6 L524.0 364.6 L525.0 364.4 L526.0 364.5 L527.0 364.5 L528.0 364.6 L529.0 364.4 L530.0 364.3 L531.0 364.3 L532.0 364.6 L533.0 364.7 L534.0 364.8 L535.0 364.7 L536.0 364.7 L536.9 364.7" fill="none" stroke="#008000" stroke-width="2.5" stroke-linejoin="round"/>
<ellipse cx="94.7" cy="205.7" rx="5.8" ry="8.2" fill="none" stroke="#000" stroke-width="1.4"/>
<circle cx="281.7" cy="206" r="8.1" fill="none" stroke="#000" stroke-width="1.4"/>

<g style="font-size:22px"><text x="69.9" y="408" text-anchor="middle">0</text><text x="163.1" y="408" text-anchor="middle">3</text><text x="256.2" y="408" text-anchor="middle">6</text><text x="349.3" y="408" text-anchor="middle">9</text><text x="442.5" y="408" text-anchor="middle">12</text><text x="535.7" y="408" text-anchor="middle">15</text></g>
<text x="303.3" y="431.8" text-anchor="middle" style="font-size:28.8px" textLength="143.1" lengthAdjust="spacingAndGlyphs">Energy/keV</text>
<g style="font-size:20px">
<text x="80.5" y="51.6" text-anchor="middle">C</text>
<text x="91.3" y="117.3" text-anchor="middle">O</text>
<text x="163" y="121.8" text-anchor="middle" style="font-size:19px">Pd</text>
<text x="97.1" y="193.4" text-anchor="middle">Co</text>
<text x="283" y="194.5" text-anchor="middle">Co</text>
</g>
<g style="font-size:28px;stroke:#000;stroke-width:0.4">
<text x="515" y="134">c<tspan style="font-size:11.5px;stroke-width:0.25;font-weight:normal">0</tspan></text>
<text x="515" y="205.4">c<tspan style="font-size:11.5px;stroke-width:0.25;font-weight:normal">1</tspan></text>
<text x="515" y="275">c<tspan style="font-size:11.5px;stroke-width:0.25;font-weight:normal">2</tspan></text>
<text x="515" y="358.8">c<tspan style="font-size:11.5px;stroke-width:0.25;font-weight:normal">3</tspan></text>
</g>
</svg>
</body></html>
